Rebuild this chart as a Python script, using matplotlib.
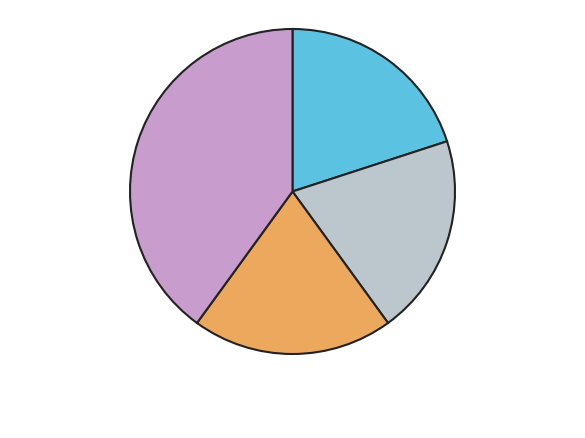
import matplotlib
matplotlib.use('Agg')
import matplotlib.pyplot as plt

# slices, clockwise from 12 o'clock
labels = ['A', 'B', 'C', 'D']
values = [20, 20, 20, 40]
colors = ['#5bc2e1', '#bcc7cd', '#eca85c', '#c89dce']

fig = plt.figure(figsize=(5.85, 4.39), dpi=100)
# pie centred at about (292.5, 191) px with radius ~162.5 px
r = 162.5
ax = fig.add_axes([(292.5 - r) / 585, (439 - 191 - r - 1.5) / 439, 2 * r / 585, 2 * r / 439])
ax.pie(values, colors=colors, startangle=90, counterclock=False, radius=1,
       wedgeprops={'edgecolor': '#222222', 'linewidth': 1.5})
ax.set_xlim(-1, 1)
ax.set_ylim(-1, 1)
ax.set_aspect('equal')
ax.axis('off')

fig.savefig('out.png', dpi=100)
